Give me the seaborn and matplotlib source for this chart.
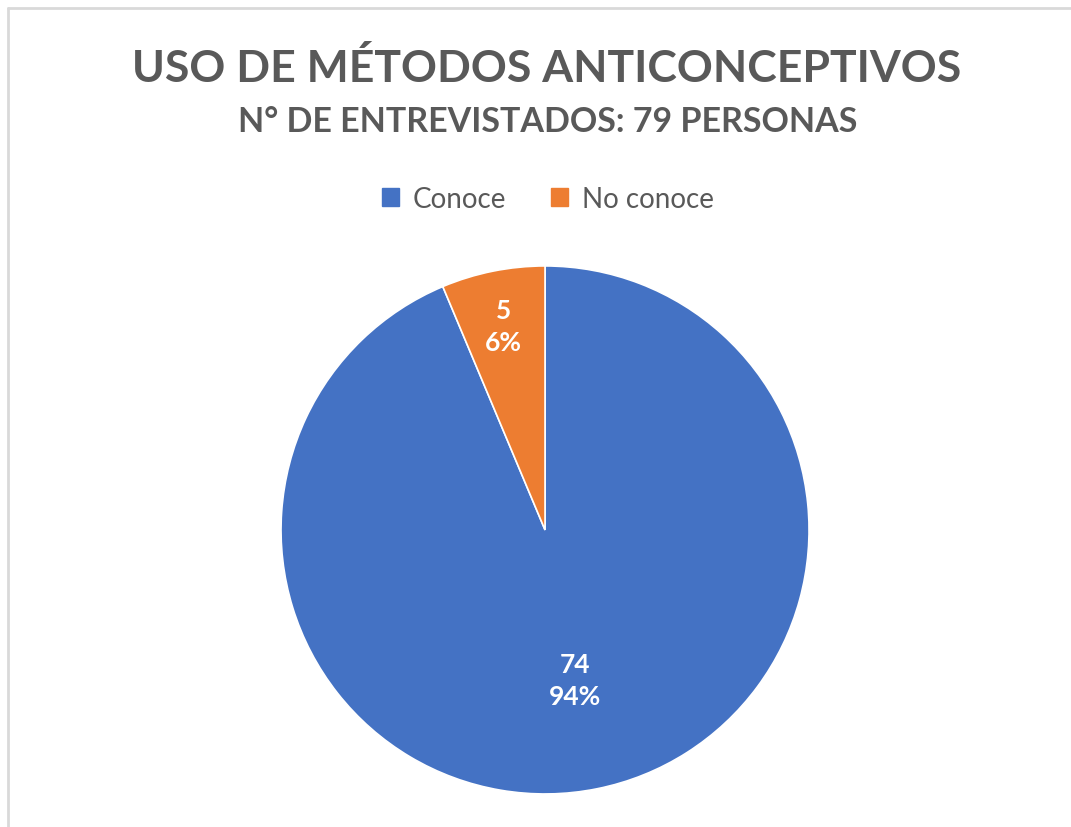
import matplotlib
matplotlib.use('Agg')
import matplotlib.pyplot as plt
import matplotlib.patches as mpatches
from matplotlib.lines import Line2D
import seaborn as sns
import numpy as np

# datos de la encuesta
categorias = ['Conoce', 'No conoce']
personas = [74, 5]
porcentajes = ['94%', '6%']
titulo = 'USO DE MÉTODOS ANTICONCEPTIVOS'
subtitulo = 'N° DE ENTREVISTADOS: 79 PERSONAS'

sns.set_theme(style="white")
plt.rcParams['font.family'] = ['Lato', 'DejaVu Sans']

colores = ['#4472C4', '#ED7D31']
gris = '#595959'

fig = plt.figure(figsize=(10.71, 8.28), dpi=100)
fig.patch.set_facecolor('white')

# marco del grafico
fig.add_artist(Line2D([8 / 1071, 1.0], [1 - 9 / 828, 1 - 9 / 828], transform=fig.transFigure,
                      color='#D9D9D9', lw=2))
fig.add_artist(Line2D([8 / 1071, 8 / 1071], [0.0, 1 - 9 / 828], transform=fig.transFigure,
                      color='#D9D9D9', lw=2))

ax = fig.add_axes([0.2624, 0.0399, 0.493, 0.6377])
wedges, _ = ax.pie(personas, colors=colores, startangle=90, counterclock=False,
                   wedgeprops=dict(edgecolor='white', linewidth=1.2))
ax.set_xlim(-1.0, 1.0)
ax.set_ylim(-1.0, 1.0)
ax.set_aspect('equal')

# etiquetas dentro de cada sector
distancias = [0.58, 0.79]
for w, n, p, d in zip(wedges, personas, porcentajes, distancias):
    ang = np.deg2rad((w.theta1 + w.theta2) / 2)
    x, y = d * np.cos(ang), d * np.sin(ang)
    ax.text(x, y, f"{n}\n{p}", ha='center', va='center', color='white',
            fontsize=19, fontweight='bold', linespacing=1.4)

fig.text(0.51, 1 - 68 / 828, titulo, ha='center', va='center', color=gris,
         fontsize=32, fontweight='bold')
fig.text(0.511, 1 - 122 / 828, subtitulo, ha='center', va='center', color=gris,
         fontsize=24.5, fontweight='bold')

handles = [mpatches.Patch(color=c, label=l) for c, l in zip(colores, categorias)]
fig.legend(handles=handles, loc='center', bbox_to_anchor=(548 / 1071, 1 - 200 / 828), ncol=2,
           frameon=False, fontsize=20, handlelength=0.6, handleheight=0.6,
           handletextpad=0.5, columnspacing=1.6, labelcolor=gris)

plt.savefig('out.png', dpi=100)
